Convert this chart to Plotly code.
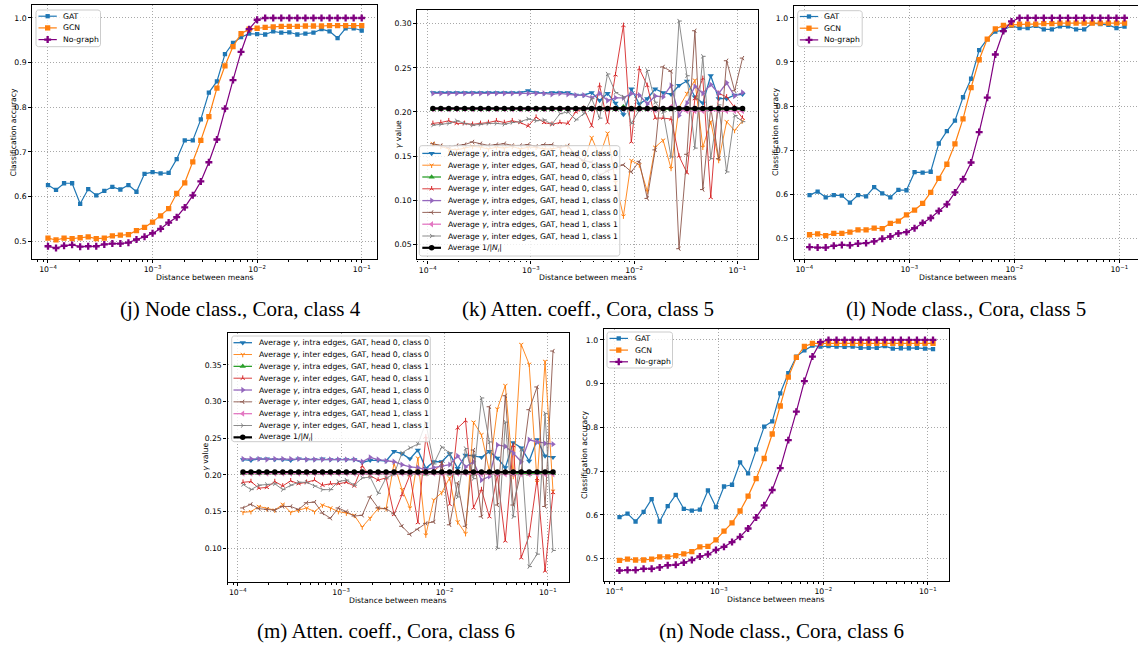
import numpy as np
import plotly.graph_objects as go

W, H = 1138, 648

# distance between class means (log-spaced sweeps)
dist_j = np.logspace(-4, -1, 40)
dist = np.logspace(-3.95, -0.95, 40)

# ---------------- (j) node classification, class 4 ----------------
gat_j = [0.626, 0.615, 0.630, 0.630, 0.584, 0.617, 0.603, 0.613, 0.622, 0.616,
         0.626, 0.611, 0.651, 0.655, 0.652, 0.653, 0.684, 0.726, 0.726, 0.773,
         0.833, 0.858, 0.919, 0.944, 0.957, 0.965, 0.964, 0.963, 0.970, 0.967,
         0.968, 0.963, 0.965, 0.967, 0.975, 0.970, 0.955, 0.977, 0.977, 0.972]
gcn_j = [0.507, 0.503, 0.507, 0.506, 0.508, 0.510, 0.506, 0.507, 0.512, 0.514,
         0.515, 0.524, 0.531, 0.543, 0.557, 0.573, 0.607, 0.631, 0.678, 0.726,
         0.779, 0.843, 0.893, 0.936, 0.965, 0.975, 0.977, 0.979, 0.980, 0.981,
         0.981, 0.981, 0.982, 0.982, 0.982, 0.983, 0.983, 0.983, 0.983, 0.983]
nog_j = [0.489, 0.485, 0.490, 0.492, 0.488, 0.489, 0.489, 0.493, 0.495, 0.495,
         0.497, 0.504, 0.510, 0.518, 0.528, 0.542, 0.554, 0.576, 0.603, 0.634,
         0.677, 0.728, 0.797, 0.861, 0.924, 0.975, 0.996, 1.000, 1.000, 1.000,
         1.000, 1.000, 1.000, 1.000, 1.000, 1.000, 1.000, 1.000, 1.000, 1.000]

# ---------------- (l) node classification, class 5 ----------------
gat_l = [0.598, 0.606, 0.593, 0.598, 0.597, 0.581, 0.598, 0.595, 0.616, 0.602,
         0.593, 0.610, 0.609, 0.650, 0.649, 0.651, 0.715, 0.743, 0.767, 0.820,
         0.862, 0.927, 0.952, 0.969, 0.972, 0.982, 0.977, 0.977, 0.982, 0.974,
         0.974, 0.981, 0.981, 0.974, 0.974, 0.988, 0.986, 0.984, 0.977, 0.980]
gcn_l = [0.508, 0.510, 0.506, 0.511, 0.511, 0.514, 0.519, 0.519, 0.523, 0.522,
         0.534, 0.539, 0.553, 0.564, 0.579, 0.604, 0.636, 0.668, 0.714, 0.771,
         0.842, 0.905, 0.952, 0.975, 0.983, 0.984, 0.986, 0.986, 0.986, 0.987,
         0.987, 0.988, 0.988, 0.988, 0.988, 0.988, 0.988, 0.988, 0.988, 0.988]
nog_l = [0.480, 0.479, 0.479, 0.483, 0.485, 0.484, 0.488, 0.489, 0.493, 0.499,
         0.504, 0.511, 0.514, 0.523, 0.535, 0.546, 0.562, 0.577, 0.604, 0.634,
         0.672, 0.741, 0.819, 0.917, 0.970, 0.992, 1.000, 1.000, 1.000, 1.000,
         1.000, 1.000, 1.000, 1.000, 1.000, 1.000, 1.000, 1.000, 1.000, 1.000]

# ---------------- (n) node classification, class 6 ----------------
gat_n = [0.595, 0.603, 0.585, 0.607, 0.636, 0.585, 0.620, 0.646, 0.614, 0.610,
         0.612, 0.656, 0.618, 0.665, 0.669, 0.720, 0.695, 0.750, 0.802, 0.814,
         0.878, 0.924, 0.962, 0.976, 0.987, 0.985, 0.986, 0.985, 0.984, 0.985,
         0.982, 0.982, 0.982, 0.986, 0.980, 0.981, 0.981, 0.982, 0.980, 0.979]
gcn_n = [0.496, 0.499, 0.497, 0.497, 0.499, 0.504, 0.504, 0.507, 0.511, 0.516,
         0.527, 0.528, 0.543, 0.563, 0.582, 0.609, 0.643, 0.683, 0.729, 0.785,
         0.849, 0.915, 0.960, 0.985, 0.992, 0.992, 0.992, 0.992, 0.992, 0.992,
         0.992, 0.992, 0.992, 0.992, 0.992, 0.992, 0.992, 0.992, 0.992, 0.992]
nog_n = [0.473, 0.474, 0.474, 0.477, 0.477, 0.480, 0.485, 0.486, 0.491, 0.497,
         0.505, 0.510, 0.520, 0.527, 0.538, 0.550, 0.569, 0.594, 0.622, 0.657,
         0.707, 0.771, 0.836, 0.906, 0.962, 0.995, 1.000, 1.000, 1.000, 1.000,
         1.000, 1.000, 1.000, 1.000, 1.000, 1.000, 1.000, 1.000, 1.000, 1.000]

# ---------------- (k) attention coefficients, class 5 ----------------
intra_h0c0_k = [0.222, 0.222, 0.222, 0.222, 0.222, 0.222, 0.222, 0.222, 0.222, 0.222,
                0.222, 0.222, 0.224, 0.222, 0.221, 0.222, 0.222, 0.222, 0.219, 0.219,
                0.222, 0.213, 0.221, 0.210, 0.197, 0.226, 0.209, 0.215, 0.226, 0.222,
                0.220, 0.230, 0.235, 0.217, 0.210, 0.241, 0.215, 0.215, 0.219, 0.220]
inter_h0c0_k = [0.164, 0.161, 0.158, 0.157, 0.159, 0.161, 0.160, 0.158, 0.160, 0.159,
                0.161, 0.158, 0.160, 0.160, 0.158, 0.158, 0.160, 0.161, 0.152, 0.143,
                0.171, 0.150, 0.176, 0.120, 0.082, 0.145, 0.140, 0.110, 0.160, 0.168,
                0.136, 0.205, 0.221, 0.236, 0.160, 0.189, 0.145, 0.189, 0.179, 0.190]
intra_h0c1_k = [0.203, 0.203, 0.203, 0.203, 0.203, 0.203, 0.203, 0.203, 0.203, 0.203,
                0.203, 0.203, 0.203, 0.203, 0.203, 0.203, 0.203, 0.203, 0.203, 0.203,
                0.203, 0.203, 0.203, 0.203, 0.206, 0.203, 0.203, 0.203, 0.203, 0.203,
                0.203, 0.203, 0.203, 0.203, 0.203, 0.203, 0.203, 0.203, 0.203, 0.203]
inter_h0c1_k = [0.187, 0.188, 0.190, 0.187, 0.187, 0.186, 0.187, 0.188, 0.190, 0.188,
                0.190, 0.188, 0.184, 0.194, 0.188, 0.186, 0.188, 0.187, 0.200, 0.204,
                0.184, 0.230, 0.188, 0.242, 0.298, 0.166, 0.249, 0.230, 0.193, 0.193,
                0.192, 0.150, 0.131, 0.215, 0.238, 0.103, 0.221, 0.217, 0.205, 0.193]
intra_h1c0_k = [0.221, 0.221, 0.221, 0.221, 0.221, 0.221, 0.221, 0.221, 0.221, 0.221,
                0.221, 0.221, 0.221, 0.221, 0.221, 0.220, 0.221, 0.220, 0.219, 0.219,
                0.216, 0.221, 0.213, 0.216, 0.216, 0.221, 0.219, 0.209, 0.218, 0.217,
                0.230, 0.196, 0.210, 0.229, 0.221, 0.231, 0.221, 0.233, 0.218, 0.222]
inter_h1c0_k = [0.164, 0.162, 0.160, 0.162, 0.163, 0.166, 0.164, 0.162, 0.163, 0.164,
                0.162, 0.162, 0.163, 0.161, 0.163, 0.163, 0.160, 0.162, 0.150, 0.145,
                0.143, 0.128, 0.133, 0.137, 0.140, 0.132, 0.144, 0.102, 0.157, 0.251,
                0.246, 0.045, 0.152, 0.292, 0.112, 0.205, 0.147, 0.258, 0.224, 0.261]
intra_h1c1_k = [0.203, 0.203, 0.203, 0.203, 0.203, 0.203, 0.203, 0.203, 0.203, 0.203,
                0.203, 0.203, 0.203, 0.203, 0.203, 0.203, 0.203, 0.203, 0.203, 0.203,
                0.203, 0.203, 0.203, 0.203, 0.203, 0.203, 0.203, 0.203, 0.202, 0.203,
                0.206, 0.202, 0.201, 0.201, 0.201, 0.202, 0.201, 0.201, 0.201, 0.201]
inter_h1c1_k = [0.185, 0.186, 0.187, 0.190, 0.187, 0.185, 0.186, 0.187, 0.187, 0.186,
                0.188, 0.189, 0.192, 0.190, 0.191, 0.186, 0.198, 0.200, 0.191, 0.198,
                0.215, 0.193, 0.243, 0.222, 0.217, 0.187, 0.202, 0.247, 0.211, 0.200,
                0.149, 0.303, 0.241, 0.159, 0.263, 0.147, 0.208, 0.132, 0.196, 0.189]
inv_deg_k = [0.204, 0.204, 0.204, 0.204, 0.204, 0.204, 0.204, 0.204, 0.204, 0.204,
             0.204, 0.204, 0.204, 0.204, 0.204, 0.204, 0.204, 0.204, 0.204, 0.204,
             0.204, 0.204, 0.204, 0.204, 0.204, 0.204, 0.204, 0.204, 0.204, 0.204,
             0.204, 0.204, 0.204, 0.204, 0.204, 0.204, 0.204, 0.204, 0.204, 0.204]

# ---------------- (m) attention coefficients, class 6 ----------------
intra_h0c0_m = [0.221, 0.220, 0.222, 0.222, 0.221, 0.221, 0.220, 0.222, 0.221, 0.221,
                0.222, 0.221, 0.221, 0.221, 0.221, 0.217, 0.220, 0.220, 0.219, 0.232,
                0.229, 0.222, 0.234, 0.209, 0.218, 0.218, 0.229, 0.209, 0.227, 0.226,
                0.224, 0.232, 0.223, 0.210, 0.244, 0.237, 0.219, 0.248, 0.226, 0.224]
inter_h0c0_m = [0.149, 0.150, 0.157, 0.154, 0.152, 0.160, 0.149, 0.152, 0.155, 0.150,
                0.159, 0.155, 0.150, 0.148, 0.145, 0.129, 0.141, 0.154, 0.154, 0.216,
                0.180, 0.155, 0.223, 0.118, 0.166, 0.176, 0.196, 0.136, 0.120, 0.272,
                0.255, 0.205, 0.290, 0.322, 0.198, 0.378, 0.351, 0.190, 0.355, 0.178]
intra_h0c1_m = [0.202, 0.202, 0.202, 0.202, 0.202, 0.202, 0.202, 0.202, 0.202, 0.202,
                0.202, 0.202, 0.202, 0.202, 0.202, 0.202, 0.202, 0.202, 0.202, 0.202,
                0.202, 0.201, 0.202, 0.201, 0.202, 0.202, 0.201, 0.202, 0.202, 0.201,
                0.202, 0.202, 0.201, 0.202, 0.201, 0.202, 0.201, 0.202, 0.202, 0.202]
inter_h0c1_m = [0.190, 0.191, 0.182, 0.183, 0.191, 0.185, 0.192, 0.188, 0.190, 0.193,
                0.186, 0.188, 0.188, 0.190, 0.185, 0.212, 0.199, 0.193, 0.196, 0.146,
                0.173, 0.200, 0.135, 0.252, 0.205, 0.215, 0.160, 0.264, 0.274, 0.155,
                0.180, 0.143, 0.200, 0.110, 0.240, 0.087, 0.117, 0.195, 0.069, 0.176]
intra_h1c0_m = [0.222, 0.222, 0.222, 0.221, 0.222, 0.222, 0.222, 0.222, 0.221, 0.221,
                0.221, 0.221, 0.221, 0.221, 0.221, 0.218, 0.224, 0.221, 0.219, 0.218,
                0.214, 0.211, 0.210, 0.207, 0.210, 0.212, 0.214, 0.226, 0.211, 0.218,
                0.193, 0.198, 0.241, 0.239, 0.230, 0.218, 0.248, 0.245, 0.243, 0.242]
inter_h1c0_m = [0.155, 0.160, 0.154, 0.153, 0.152, 0.157, 0.157, 0.153, 0.162, 0.163,
                0.148, 0.141, 0.155, 0.150, 0.144, 0.145, 0.170, 0.155, 0.154, 0.147,
                0.130, 0.119, 0.126, 0.134, 0.136, 0.217, 0.132, 0.189, 0.130, 0.234,
                0.143, 0.293, 0.159, 0.308, 0.159, 0.205, 0.289, 0.320, 0.157, 0.369]
intra_h1c1_m = [0.202, 0.202, 0.202, 0.202, 0.202, 0.202, 0.202, 0.202, 0.202, 0.202,
                0.202, 0.202, 0.202, 0.202, 0.202, 0.202, 0.202, 0.202, 0.202, 0.202,
                0.202, 0.202, 0.202, 0.202, 0.202, 0.202, 0.202, 0.202, 0.202, 0.202,
                0.201, 0.201, 0.201, 0.201, 0.201, 0.201, 0.201, 0.201, 0.201, 0.201]
inter_h1c1_m = [0.187, 0.180, 0.186, 0.187, 0.188, 0.180, 0.186, 0.190, 0.190, 0.185,
                0.180, 0.180, 0.191, 0.193, 0.186, 0.196, 0.197, 0.175, 0.196, 0.201,
                0.230, 0.237, 0.242, 0.271, 0.215, 0.238, 0.230, 0.170, 0.236, 0.195,
                0.305, 0.245, 0.100, 0.272, 0.143, 0.235, 0.075, 0.092, 0.284, 0.097]
inv_deg_m = [0.204, 0.204, 0.204, 0.204, 0.204, 0.204, 0.204, 0.204, 0.204, 0.204,
             0.204, 0.204, 0.204, 0.204, 0.204, 0.204, 0.204, 0.204, 0.204, 0.204,
             0.204, 0.204, 0.204, 0.204, 0.204, 0.204, 0.204, 0.204, 0.204, 0.204,
             0.204, 0.204, 0.204, 0.204, 0.204, 0.204, 0.204, 0.204, 0.204, 0.204]

node_labels = ["GAT", "GCN", "No-graph"]
att_labels = [
    "Average <i>γ</i>, intra edges, GAT, head 0, class 0",
    "Average <i>γ</i>, inter edges, GAT, head 0, class 0",
    "Average <i>γ</i>, intra edges, GAT, head 0, class 1",
    "Average <i>γ</i>, inter edges, GAT, head 0, class 1",
    "Average <i>γ</i>, intra edges, GAT, head 1, class 0",
    "Average <i>γ</i>, inter edges, GAT, head 1, class 0",
    "Average <i>γ</i>, intra edges, GAT, head 1, class 1",
    "Average <i>γ</i>, inter edges, GAT, head 1, class 1",
    "Average 1/|<i>N<sub>i</sub></i>|",
]
captions = ["(j) Node class., Cora, class 4", "(k) Atten. coeff., Cora, class 5",
            "(l) Node class., Cora, class 5", "(m) Atten. coeff., Cora, class 6",
            "(n) Node class., Cora, class 6"]
decade_ticks = [1e-4, 1e-3, 1e-2, 1e-1]
decade_text = ["10<sup>−4</sup>", "10<sup>−3</sup>", "10<sup>−2</sup>", "10<sup>−1</sup>"]
minor_ticks = [m * 10.0 ** e for e in (-5, -4, -3, -2, -1) for m in range(2, 10)]

# (colour, symbol, size, line width)
node_styles = [("#1f77b4", "square", 4.3, 1.2),
               ("#ff7f0e", "square", 5.3, 1.2),
               ("#800080", "cross", 5.8, 1.2)]
att_styles = [("#1f77b4", "triangle-down", 5.5, 1.3),
              ("#ff7f0e", "y-down", 3.5, 0.9),
              ("#2ca02c", "triangle-up", 5.5, 1.3),
              ("#d62728", "y-up", 3.5, 0.9),
              ("#9467bd", "triangle-right", 5.5, 1.3),
              ("#8c564b", "y-left", 3.5, 0.9),
              ("#e377c2", "triangle-left", 5.5, 1.3),
              ("#7f7f7f", "y-right", 3.5, 0.9),
              ("#000000", "circle", 5.5, 2.2)]

FONT = "DejaVu Sans"
FS = 7.7
GRID = dict(showgrid=True, gridcolor="#a8a8a8", griddash="1px,2px", gridwidth=0.8)

fig = go.Figure()


def ax_suffix(i):
    return "" if i == 1 else str(i)


def marker_of(color, symbol, size):
    is_open = symbol.startswith("y-")
    return dict(symbol=symbol, size=size, color=color,
                line=dict(color=color, width=1.0 if is_open else 0))


def add_series(i, xs, ys, style):
    color, symbol, size, lw = style
    s = ax_suffix(i)
    fig.add_trace(go.Scatter(x=xs, y=ys, xaxis="x" + s, yaxis="y" + s,
                             mode="lines+markers", line=dict(color=color, width=lw),
                             marker=marker_of(color, symbol, size),
                             showlegend=False, hoverinfo="skip"))


# panels: pixel box (left, top, right, bottom), log-x range, y range, y tick step/format
panels = [
    dict(box=(32.3, 5.3, 377.4, 259.0), xr=(-4.15, -0.85), yr=(0.4604, 1.0284), dt=0.1, fmt=".1f",
         x=dist_j, series=[gat_j, gcn_j, nog_j], styles=node_styles,
         ylabel="Classification accuracy", ylab_x=13.3, xlab_y=277.5),
    dict(box=(417.4, 10.0, 758.0, 259.3), xr=(-4.10, -0.80), yr=(0.033, 0.3155), dt=0.05, fmt=".2f",
         x=dist, series=[intra_h0c0_k, inter_h0c0_k, intra_h0c1_k, inter_h0c1_k,
                         intra_h1c0_k, inter_h1c0_k, intra_h1c1_k, inter_h1c1_k, inv_deg_k],
         styles=att_styles, ylabel="<i>γ</i> value", ylab_x=398.5, xlab_y=277.5),
    dict(box=(793.8, 6.0, 1138.0, 259.0), xr=(-4.10, -0.822), yr=(0.453, 1.027), dt=0.1, fmt=".1f",
         x=dist, series=[gat_l, gcn_l, nog_l], styles=node_styles,
         ylabel="Classification accuracy", ylab_x=775.5, xlab_y=277.5, xlab_cx=967.5),
    dict(box=(227.5, 332.7, 568.5, 582.0), xr=(-4.10, -0.80), yr=(0.054, 0.394), dt=0.05, fmt=".2f",
         x=dist, series=[intra_h0c0_m, inter_h0c0_m, intra_h0c1_m, inter_h0c1_m,
                         intra_h1c0_m, inter_h1c0_m, intra_h1c1_m, inter_h1c1_m, inv_deg_m],
         styles=att_styles, ylabel="<i>γ</i> value", ylab_x=205.5, xlab_y=600),
    dict(box=(603.8, 329.0, 948.7, 581.0), xr=(-4.10, -0.80), yr=(0.449, 1.025), dt=0.1, fmt=".1f",
         x=dist, series=[gat_n, gcn_n, nog_n], styles=node_styles,
         ylabel="Classification accuracy", ylab_x=584, xlab_y=599),
]

layout_axes = {}
annotations = []
for i, p in enumerate(panels, start=1):
    l, t, r, b = p["box"]
    s = ax_suffix(i)
    for ys, st in zip(p["series"], p["styles"]):
        add_series(i, p["x"], ys, st)
    layout_axes["xaxis" + s] = dict(
        domain=[l / W, r / W], anchor="y" + s, type="log", range=list(p["xr"]),
        tickmode="array", tickvals=decade_ticks, ticktext=decade_text,
        ticks="outside", ticklen=3, tickwidth=0.8, tickcolor="black",
        showline=True, linecolor="black", linewidth=1.4, mirror=True,
        zeroline=False, tickfont=dict(family=FONT, size=FS, color="black"),
        minor=dict(tickmode="array", tickvals=minor_ticks, ticks="outside", ticklen=1.8,
                   tickcolor="black", tickwidth=0.6, showgrid=False),
        **GRID,
    )
    layout_axes["yaxis" + s] = dict(
        domain=[1 - b / H, 1 - t / H], anchor="x" + s, range=list(p["yr"]),
        tick0=0, dtick=p["dt"], tickformat=p["fmt"],
        ticks="outside", ticklen=3, tickwidth=0.8, tickcolor="black",
        showline=True, linecolor="black", linewidth=1.4, mirror=True,
        zeroline=False, tickfont=dict(family=FONT, size=FS, color="black"),
        **GRID,
    )
    # axis titles
    cx = p.get("xlab_cx", (l + r) / 2)
    annotations.append(dict(x=cx / W, y=1 - p["xlab_y"] / H, xref="paper", yref="paper",
                            text="Distance between means", showarrow=False,
                            xanchor="center", yanchor="middle",
                            font=dict(family=FONT, size=FS, color="black")))
    annotations.append(dict(x=p["ylab_x"] / W, y=1 - (t + b) / 2 / H, xref="paper", yref="paper",
                            text=p["ylabel"], showarrow=False, textangle=-90,
                            xanchor="center", yanchor="middle",
                            font=dict(family=FONT, size=FS, color="black")))

# full-page overlay axis (pixel units) used to draw the legend boxes on top of the curves
layout_axes["xaxis6"] = dict(domain=[0, 1], range=[0, W], visible=False, anchor="y6", fixedrange=True)
layout_axes["yaxis6"] = dict(domain=[0, 1], range=[H, 0], visible=False, anchor="x6", fixedrange=True)


def rounded_box(x0, y0, x1, y1, r=2.5, n=5):
    xs, ys = [], []
    corners = [(x1 - r, y0 + r, -90, 0), (x1 - r, y1 - r, 0, 90),
               (x0 + r, y1 - r, 90, 180), (x0 + r, y0 + r, 180, 270)]
    for cx, cy, a0, a1 in corners:
        for a in np.linspace(np.radians(a0), np.radians(a1), n):
            xs.append(cx + r * np.cos(a))
            ys.append(cy + r * np.sin(a))
    xs.append(xs[0])
    ys.append(ys[0])
    return xs, ys


def add_legend(box, row0, step, line_x, text_x, labels, styles):
    bx, by = rounded_box(*box)
    fig.add_trace(go.Scatter(x=bx, y=by, xaxis="x6", yaxis="y6", mode="lines", fill="toself",
                             fillcolor="rgba(255,255,255,0.8)", line=dict(color="#cccccc", width=1),
                             showlegend=False, hoverinfo="skip"))
    for k, (label, st) in enumerate(zip(labels, styles)):
        color, symbol, size, lw = st
        ry = row0 + k * step
        fig.add_trace(go.Scatter(x=[line_x[0], line_x[1]], y=[ry, ry], xaxis="x6", yaxis="y6",
                                 mode="lines", line=dict(color=color, width=lw),
                                 showlegend=False, hoverinfo="skip"))
        fig.add_trace(go.Scatter(x=[(line_x[0] + line_x[1]) / 2], y=[ry], xaxis="x6", yaxis="y6",
                                 mode="markers", marker=marker_of(color, symbol, size),
                                 showlegend=False, hoverinfo="skip"))
        annotations.append(dict(x=text_x / W, y=1 - ry / H, xref="paper", yref="paper",
                                text=label, showarrow=False, xanchor="left", yanchor="middle",
                                font=dict(family=FONT, size=FS, color="black")))


add_legend((36.0, 10.0, 100.5, 46.7), 16.2, 11.7, (38.5, 56.8), 61.0, node_labels, node_styles)
add_legend((419.3, 145.7, 619.8, 256.0), 153.4, 11.8, (422.3, 441.0), 446.0, att_labels, att_styles)
add_legend((797.7, 10.7, 862.2, 46.7), 16.5, 11.7, (799.8, 818.2), 822.0, node_labels, node_styles)
add_legend((231.7, 336.0, 430.3, 441.7), 342.7, 11.83, (233.5, 252.0), 256.5, att_labels, att_styles)
add_legend((607.0, 332.0, 672.5, 368.0), 338.4, 11.7, (609.5, 628.0), 632.5, node_labels, node_styles)

# sub-figure captions
cap_pos = [(240, 309), (588, 309), (966, 309), (386, 631), (781, 631)]
for text, (cx, cy) in zip(captions, cap_pos):
    annotations.append(dict(x=cx / W, y=1 - cy / H, xref="paper", yref="paper", text=text,
                            showarrow=False, xanchor="center", yanchor="middle",
                            font=dict(family="Liberation Serif", size=21, color="black")))

fig.update_layout(
    width=W, height=H, autosize=False,
    margin=dict(l=0, r=0, t=0, b=0),
    paper_bgcolor="white", plot_bgcolor="rgba(0,0,0,0)",
    showlegend=False,
    annotations=annotations,
    **layout_axes,
)

fig.write_html("out.html")
